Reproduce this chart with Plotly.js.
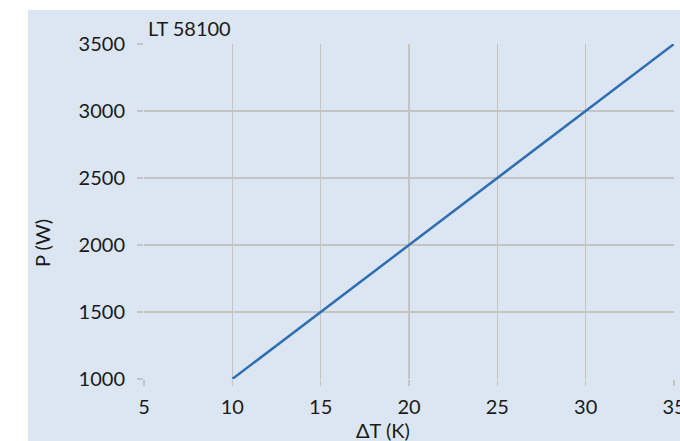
<!DOCTYPE html>
<html>
<head>
<meta charset="utf-8">
<script src="https://cdn.plot.ly/plotly-3.0.1.min.js"></script>
<style>
html,body{margin:0;padding:0;background:#ffffff;width:680px;height:441px;overflow:hidden;}
#chart{position:absolute;left:28px;top:10px;width:652px;height:431px;}
</style>
</head>
<body>
<div id="chart"></div>
<script>
const chartTitle = "LT 58100";
const xTitle = "ΔT (K)";
const yTitle = "P (W)";
const deltaT = [10, 15, 20, 25, 30, 35];
const power = [1000, 1500, 2000, 2500, 3000, 3500];
const xTicks = [5, 10, 15, 20, 25, 30, 35];
const yTicks = [1000, 1500, 2000, 2500, 3000, 3500];

const font = {family: "Lato, 'Open Sans', sans-serif", size: 20, color: "#1a1a1a"};
const trace = {
  x: deltaT, y: power, type: "scatter", mode: "lines",
  line: {color: "#2f6fb1", width: 2.5}, hoverinfo: "skip"
};
const axisCommon = {
  showgrid: true, gridcolor: "#c4c4c4", gridwidth: 1.5,
  zeroline: false, showline: false,
  ticks: "outside", ticklen: 6, tickcolor: "#c4c4c4", tickwidth: 1.5,
  tickfont: font, fixedrange: true, ticklabeloverflow: "allow"
};
const layout = {
  width: 652, height: 431,
  margin: {l: 116, r: 6, t: 34, b: 62},
  paper_bgcolor: "#dce6f2", plot_bgcolor: "#dce6f2",
  font: font, showlegend: false,
  xaxis: Object.assign({}, axisCommon, {
    range: [5, 35], tickvals: xTicks, ticktext: xTicks.map(String),
    ticklabelstandoff: 4
  }),
  yaxis: Object.assign({}, axisCommon, {
    range: [1000, 3500], tickvals: yTicks, ticktext: yTicks.map(String),
    ticklabelstandoff: 8
  }),
  annotations: [
    {text: chartTitle, xref: "paper", yref: "paper", x: 0.004, y: 1, xanchor: "left", yanchor: "middle", yshift: 44-28, showarrow: false, font: font},
    {text: xTitle, xref: "paper", yref: "paper", x: (383-144)/530, y: 0, xanchor: "center", yanchor: "middle", yshift: -(430-379), showarrow: false, font: font},
    {text: yTitle, xref: "paper", yref: "paper", x: 0, y: (379-243)/335, xanchor: "center", yanchor: "middle", xshift: -(144-42), textangle: -90, showarrow: false, font: font}
  ]
};
Plotly.newPlot("chart", [trace], layout, {displayModeBar: false, staticPlot: true});
</script>
</body>
</html>
